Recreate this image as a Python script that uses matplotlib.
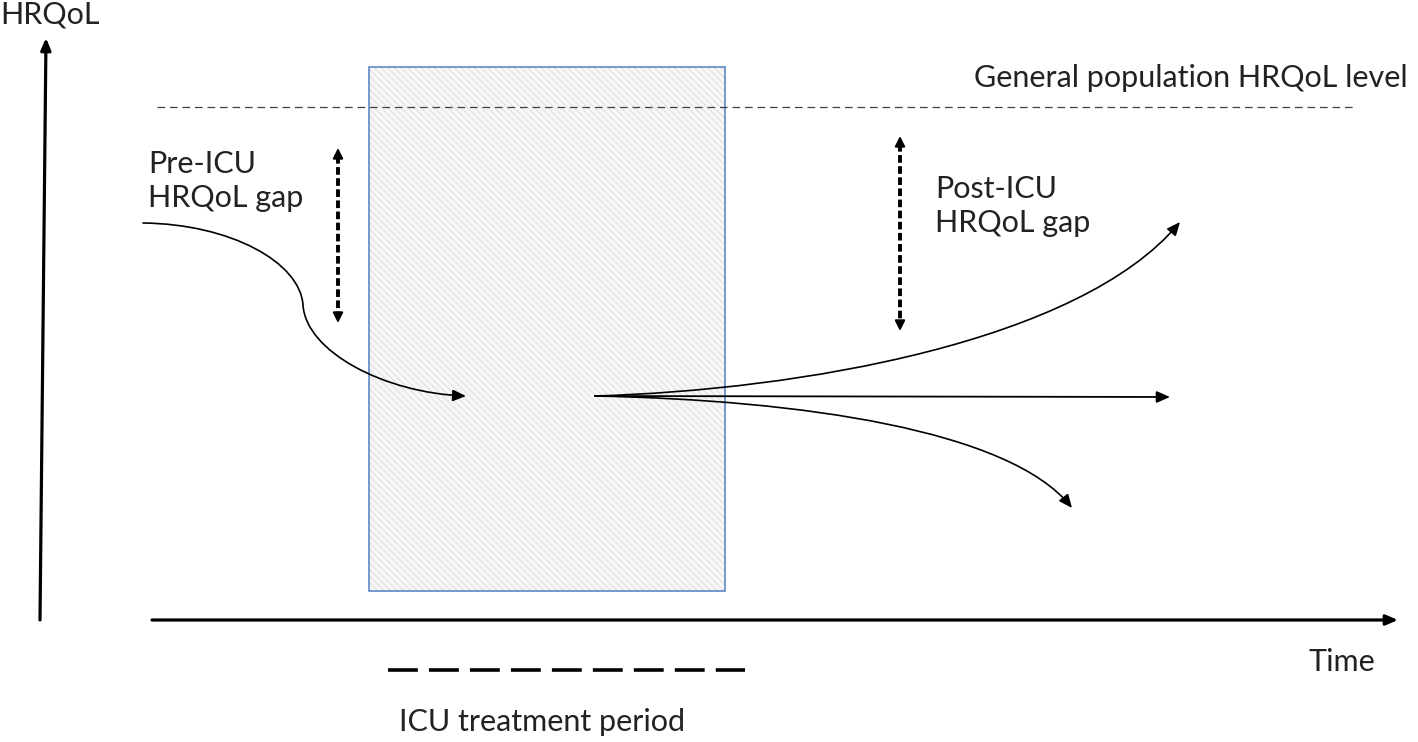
import matplotlib
matplotlib.use("Agg")
import matplotlib.pyplot as plt
from matplotlib.patches import Rectangle, FancyArrowPatch
from matplotlib.path import Path

plt.rcParams['font.family'] = ['Lato', 'DejaVu Sans']
plt.rcParams['lines.scale_dashes'] = False
plt.rcParams['hatch.linewidth'] = 0.6

# ---- diagram geometry (pixel coordinates) ----
y_axis = [(40, 620), (46, 38)]
x_axis = [(152, 620), (1398, 620)]
icu_box = [369, 67, 725, 591]             # left, top, right, bottom
general_level_y = 107
general_level_x = [157, 1355]
icu_period_dash_x = [388, 745]
icu_period_dash_y = 670
pre_gap_x = 338
pre_gap_y = [148, 323]
post_gap_x = 900
post_gap_y = [136, 331]

# pre-ICU decline curve (two cubic Bezier segments)
pre_curve = [(143, 223), (230, 224), (300, 262), (303, 305),
             (306, 352), (385, 393), (466, 396)]
# post-ICU trajectories
post_start = (595, 396)
post_up = [(800, 390), (1080, 342), (1180, 222)]
post_flat = [(1170, 397)]
post_down = [(800, 400), (1010, 430), (1072, 508)]

labels = {
    "y": "HRQoL",
    "x": "Time",
    "general": "General population HRQoL level",
    "pre": "Pre-ICU\nHRQoL gap",
    "post": "Post-ICU\nHRQoL gap",
    "icu": "ICU treatment period",
}

text_color = "#222222"

fig = plt.figure(figsize=(14.18, 7.42), dpi=100)
ax = fig.add_axes([0, 0, 1, 1])
ax.set_xlim(0, 1418)
ax.set_ylim(742, 0)
ax.axis("off")

# ICU box: hatched fill + blue outline
l, t, r, b = icu_box
ax.add_patch(Rectangle((l, t), r - l, b - t, facecolor="#f7f7f7",
                       edgecolor="#dadada", hatch="\\\\\\\\\\", linewidth=0, zorder=1))
ax.add_patch(Rectangle((l, t), r - l, b - t, facecolor="none",
                       edgecolor="#4f7fbf", linewidth=1.1, zorder=2))

# General population dashed line
ax.plot(general_level_x, [general_level_y] * 2, color="#404040", lw=0.9,
        dashes=(5.5, 3.5), zorder=3)

HEAD = "-|>,head_length=0.8,head_width=0.35"

# axes arrows
def arrow(p0, p1, lw=2.3):
    ax.annotate("", xy=p1, xytext=p0,
                arrowprops=dict(arrowstyle="-|>,head_length=0.7,head_width=0.3",
                                color="black", lw=lw, shrinkA=0, shrinkB=0),
                zorder=4)

arrow(y_axis[0], y_axis[1])
arrow(x_axis[0], x_axis[1])

# curves
def curve(points, lw=1.2):
    codes = [Path.MOVETO] + [Path.CURVE4] * (len(points) - 1)
    p = FancyArrowPatch(path=Path(points, codes), arrowstyle=HEAD,
                        mutation_scale=10, color="black", lw=lw, zorder=5)
    ax.add_patch(p)

curve(pre_curve)
curve([post_start] + post_up)
curve([post_start] + post_down)
ax.annotate("", xy=post_flat[0], xytext=post_start,
            arrowprops=dict(arrowstyle=HEAD, color="black", lw=1.3,
                            shrinkA=0, shrinkB=0), zorder=5)

# dashed double arrows
def gap_arrow(x, ys):
    y0, y1 = ys
    ax.plot([x, x], [y0 + 8, y1 - 8], color="black", lw=2.8, dashes=(5.5, 2.5),
            solid_capstyle="butt", dash_capstyle="butt", zorder=5)
    for tip, base in ((y0, y0 + 10), (y1, y1 - 10)):
        ax.annotate("", xy=(x, tip), xytext=(x, base),
                    arrowprops=dict(arrowstyle="-|>,head_length=0.6,head_width=0.3",
                                    color="black", lw=1.5, shrinkA=0, shrinkB=0),
                    zorder=5)

gap_arrow(pre_gap_x, pre_gap_y)
gap_arrow(post_gap_x, post_gap_y)

# ICU period dashes
ax.plot(icu_period_dash_x, [icu_period_dash_y] * 2, color="black", lw=2.6,
        dashes=(21.5, 8.0), dash_capstyle="butt", zorder=5)

fs = 22
ax.text(0, 15, labels["y"], fontsize=fs, color=text_color, ha="left", va="center")
ax.text(1342, 662, labels["x"], fontsize=fs, color=text_color, ha="center", va="center")
ax.text(1408, 78, labels["general"], fontsize=fs, color=text_color, ha="right", va="center")
ax.text(148, 181, labels["pre"], fontsize=fs, color=text_color, ha="left", va="center",
        linespacing=1.3)
ax.text(935, 206, labels["post"], fontsize=fs, color=text_color, ha="left", va="center",
        linespacing=1.3)
ax.text(542, 722, labels["icu"], fontsize=fs, color=text_color, ha="center", va="center")

fig.savefig("out.png", dpi=100)
